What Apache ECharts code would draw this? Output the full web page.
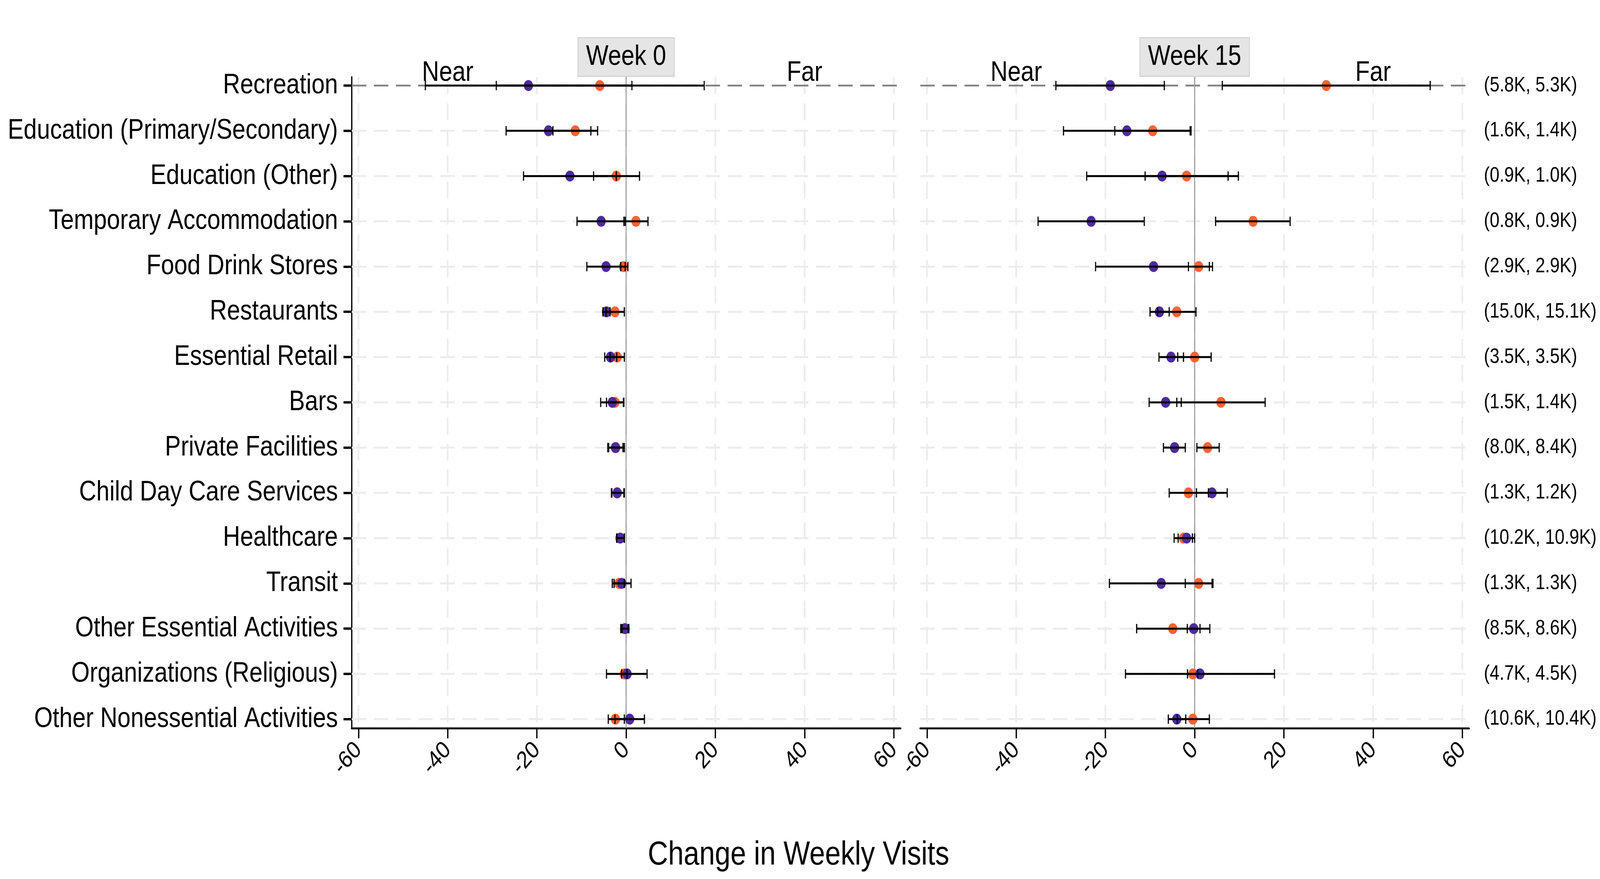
<!DOCTYPE html>
<html>
<head>
<meta charset="utf-8">
<script src="https://cdn.jsdelivr.net/npm/echarts@6/dist/echarts.min.js"></script>
<style>html,body{margin:0;padding:0;background:#fff;overflow:hidden}#c{width:4849px;height:2250px;transform-origin:0 0}</style>
</head>
<body>
<div id="c"></div>
<script>
const categories = ["Recreation","Education (Primary/Secondary)","Education (Other)","Temporary Accommodation","Food Drink Stores","Restaurants","Essential Retail","Bars","Private Facilities","Child Day Care Services","Healthcare","Transit","Other Essential Activities","Organizations (Religious)","Other Nonessential Activities"];
const sampleSizes = ["(5.8K, 5.3K)","(1.6K, 1.4K)","(0.9K, 1.0K)","(0.8K, 0.9K)","(2.9K, 2.9K)","(15.0K, 15.1K)","(3.5K, 3.5K)","(1.5K, 1.4K)","(8.0K, 8.4K)","(1.3K, 1.2K)","(10.2K, 10.9K)","(1.3K, 1.3K)","(8.5K, 8.6K)","(4.7K, 4.5K)","(10.6K, 10.4K)"];
const xTicks = [-60,-40,-20,0,20,40,60];
const panelTitles = ["Week 0","Week 15"];

// Week 0
const w0NearMean = [-21.9,-17.4,-12.6,-5.6,-4.5,-4.4,-3.5,-3.1,-2.4,-2.0,-1.3,-1.0,-0.3,0.2,0.8];
const w0NearLow  = [-45.0,-26.9,-23.0,-11.0,-8.8,-5.2,-4.8,-5.7,-4.1,-3.3,-2.1,-3.1,-1.2,-4.4,-2.5];
const w0NearHigh = [1.3,-7.9,-2.2,-0.2,-0.2,-3.6,-2.1,-0.5,-0.7,-0.4,-0.4,1.1,0.5,4.7,4.1];
const w0FarMean  = [-5.9,-11.4,-2.2,2.2,-0.6,-2.5,-2.0,-2.5,-2.3,-2.0,-1.4,-1.6,-0.2,-0.4,-2.4];
const w0FarLow   = [-29.1,-16.4,-7.3,-0.5,-1.2,-4.5,-3.6,-4.4,-3.9,-3.2,-2.1,-2.7,-0.9,-1.0,-4.0];
const w0FarHigh  = [17.5,-6.4,3.0,4.9,0.4,-0.4,-0.4,-0.6,-0.4,-0.5,-0.4,-0.4,0.6,0.2,-0.4];
// Week 15
const w15NearMean = [-18.9,-15.2,-7.3,-23.2,-9.2,-7.9,-5.3,-6.5,-4.5,3.9,-1.8,-7.5,-0.2,1.2,-4.0];
const w15NearLow  = [-31.1,-29.4,-24.2,-35.1,-22.2,-10.0,-8.0,-10.2,-7.0,0.4,-3.7,-19.1,-1.65,-15.5,-5.9];
const w15NearHigh = [-6.8,-1.0,9.8,-11.3,4.0,-5.7,-2.5,-3.0,-2.1,7.3,0.0,4.1,1.2,17.9,-2.0];
const w15FarMean  = [29.5,-9.4,-1.8,13.1,0.9,-4.0,0.0,5.9,2.9,-1.4,-2.5,0.9,-4.9,-0.4,-0.4];
const w15FarLow   = [6.2,-17.9,-11.1,4.7,-1.4,-8.3,-3.8,-4.0,0.5,-5.7,-4.6,-2.1,-13.0,-1.6,-3.9];
const w15FarHigh  = [52.8,-0.8,7.5,21.4,3.3,0.3,3.7,15.8,5.5,3.1,-0.5,3.9,3.4,0.7,3.3];

const NEAR_COLOR = '#4D2B9B';
const FAR_COLOR = '#FE6233';
const FONT = 'Liberation Sans, Arial, sans-serif';
const XMIN = -61.5, XMAX = 61.5, YMIN = 0.81, YMAX = 15.2;
const rows = categories.map((c, i) => i + 1);

// fit the 4849x2250 design into the actual viewport
const el = document.getElementById('c');
const sx = window.innerWidth / 4849, sy = window.innerHeight / 2250;
el.style.transform = 'scale(' + sx + ',' + sy + ')';

const chart = echarts.init(el, null, {width: 4849, height: 2250});

function gridV(gi) {
  return {
    type: 'custom', xAxisIndex: gi, yAxisIndex: gi, z: 1, silent: true,
    data: xTicks.map(v => [v]),
    encode: {x: 0},
    renderItem: (p, api) => {
      const a = api.coord([api.value(0), YMIN]);
      const b = api.coord([api.value(0), YMAX]);
      return {type: 'line', shape: {x1: a[0], y1: a[1], x2: b[0], y2: b[1]},
        style: {stroke: '#ececec', lineWidth: 5, lineDash: [44, 23]}};
    }
  };
}
function gridH(gi) {
  return {
    type: 'custom', xAxisIndex: gi, yAxisIndex: gi, z: 1, silent: true,
    data: rows.map(r => [r]),
    encode: {y: 0},
    renderItem: (p, api) => {
      const r = api.value(0);
      const a = api.coord([XMIN, r]);
      const b = api.coord([XMAX, r]);
      const hl = r === 1;
      return {type: 'line', z2: hl ? 5 : 1, shape: {x1: a[0], y1: a[1], x2: b[0], y2: b[1]},
        style: {stroke: hl ? '#808080' : '#ececec', lineWidth: hl ? 4.5 : 5, lineDash: [44, 23]}};
    }
  };
}
function zeroLine(gi) {
  return {
    type: 'custom', xAxisIndex: gi, yAxisIndex: gi, z: 2, silent: true,
    data: [[0]], encode: {x: 0},
    renderItem: (p, api) => {
      const a = api.coord([0, YMIN]);
      const b = api.coord([0, YMAX]);
      return {type: 'line', shape: {x1: a[0], y1: a[1], x2: b[0], y2: b[1]},
        style: {stroke: '#9a9a9a', lineWidth: 3}};
    }
  };
}
function points(gi, name, means, color, z) {
  return {
    type: 'scatter', name, xAxisIndex: gi, yAxisIndex: gi, z,
    symbolSize: 28, itemStyle: {color, opacity: 1},
    data: means.map((m, i) => [m, i + 1])
  };
}
function errBars(gi, lows, highs) {
  return {
    type: 'custom', xAxisIndex: gi, yAxisIndex: gi, z: 6, silent: true,
    data: lows.map((l, i) => [l, highs[i], i + 1]),
    encode: {x: [0, 1], y: 2},
    renderItem: (p, api) => {
      const lo = api.coord([api.value(0), api.value(2)]);
      const hi = api.coord([api.value(1), api.value(2)]);
      const h = 12;
      return {type: 'group', children: [
        {type: 'line', shape: {x1: lo[0], y1: lo[1], x2: hi[0], y2: hi[1]}, style: {stroke: '#000', lineWidth: 5}},
        {type: 'line', shape: {x1: lo[0], y1: lo[1] - h, x2: lo[0], y2: lo[1] + h}, style: {stroke: '#000', lineWidth: 3.5}},
        {type: 'line', shape: {x1: hi[0], y1: hi[1] - h, x2: hi[0], y2: hi[1] + h}, style: {stroke: '#000', lineWidth: 3.5}}
      ]};
    }
  };
}
function xAxisDef(gi) {
  return {
    type: 'value', gridIndex: gi, min: XMIN, max: XMAX,
    axisLine: {show: true, onZero: false, lineStyle: {color: '#000', width: 5}},
    axisTick: {show: true, customValues: xTicks, length: 26, lineStyle: {color: '#000', width: 4}},
    axisLabel: {show: true, customValues: xTicks, rotate: 45, margin: 46, fontSize: 62, color: '#000', fontFamily: FONT},
    splitLine: {show: false}
  };
}

const option = {
  animation: false,
  backgroundColor: '#fff',
  grid: [
    {left: 1066, top: 197, width: 1663, height: 1667},
    {left: 2789, top: 197, width: 1663, height: 1667}
  ],
  xAxis: [xAxisDef(0), xAxisDef(1)],
  yAxis: [
    {
      type: 'value', gridIndex: 0, inverse: true, min: YMIN, max: YMAX,
      axisLine: {show: true, onZero: false, lineStyle: {color: '#000', width: 4}},
      axisTick: {show: true, customValues: rows, length: 25, lineStyle: {color: '#000', width: 6}},
      axisLabel: {show: true, customValues: rows, margin: 42, fontSize: 72, color: '#000', fontFamily: FONT,
        formatter: v => categories[Math.round(v) - 1] || ''},
      splitLine: {show: false}
    },
    {
      type: 'value', gridIndex: 1, inverse: true, min: YMIN, max: YMAX, position: 'right',
      axisLine: {show: false, onZero: false},
      axisTick: {show: false},
      axisLabel: {show: true, customValues: rows, margin: 45, fontSize: 53, color: '#000', fontFamily: FONT,
        formatter: v => sampleSizes[Math.round(v) - 1] || ''},
      splitLine: {show: false}
    }
  ],
  series: [
    gridV(0), gridH(0), zeroLine(0),
    points(0, 'Far', w0FarMean, FAR_COLOR, 3),
    points(0, 'Near', w0NearMean, NEAR_COLOR, 4),
    errBars(0, w0NearLow, w0NearHigh),
    errBars(0, w0FarLow, w0FarHigh),
    gridV(1), gridH(1), zeroLine(1),
    points(1, 'Far', w15FarMean, FAR_COLOR, 3),
    points(1, 'Near', w15NearMean, NEAR_COLOR, 4),
    errBars(1, w15NearLow, w15NearHigh),
    errBars(1, w15FarLow, w15FarHigh)
  ]
};
chart.setOption(option);

const graphics = [];
[0, 1].forEach(gi => {
  const finder = {xAxisIndex: gi, yAxisIndex: gi};
  const zero = chart.convertToPixel(finder, [0, 1]);
  const near = chart.convertToPixel(finder, [-40, 1]);
  const far = chart.convertToPixel(finder, [40, 1]);
  graphics.push({
    type: 'text', z: 20, x: zero[0], y: 98,
    style: {text: panelTitles[gi], fontSize: 72, fontFamily: FONT, fill: '#000', align: 'center', verticalAlign: 'top',
      backgroundColor: '#e5e5e5', borderColor: '#d4d4d4', borderWidth: 3, padding: [12, 23, 12, 23], lineHeight: 72}
  });
  graphics.push({type: 'text', z: 20, x: near[0], y: near[1] - 32,
    style: {text: 'Near', fontSize: 72, fontFamily: FONT, fill: '#000', align: 'center', verticalAlign: 'middle'}});
  graphics.push({type: 'text', z: 20, x: far[0], y: far[1] - 32,
    style: {text: 'Far', fontSize: 72, fontFamily: FONT, fill: '#000', align: 'center', verticalAlign: 'middle'}});
});
graphics.push({type: 'text', x: 2420, y: 2190,
  style: {text: 'Change in Weekly Visits', fontSize: 85, fontFamily: FONT, fill: '#000', align: 'center', verticalAlign: 'middle'}});
chart.setOption({graphic: graphics});
</script>
</body>
</html>
